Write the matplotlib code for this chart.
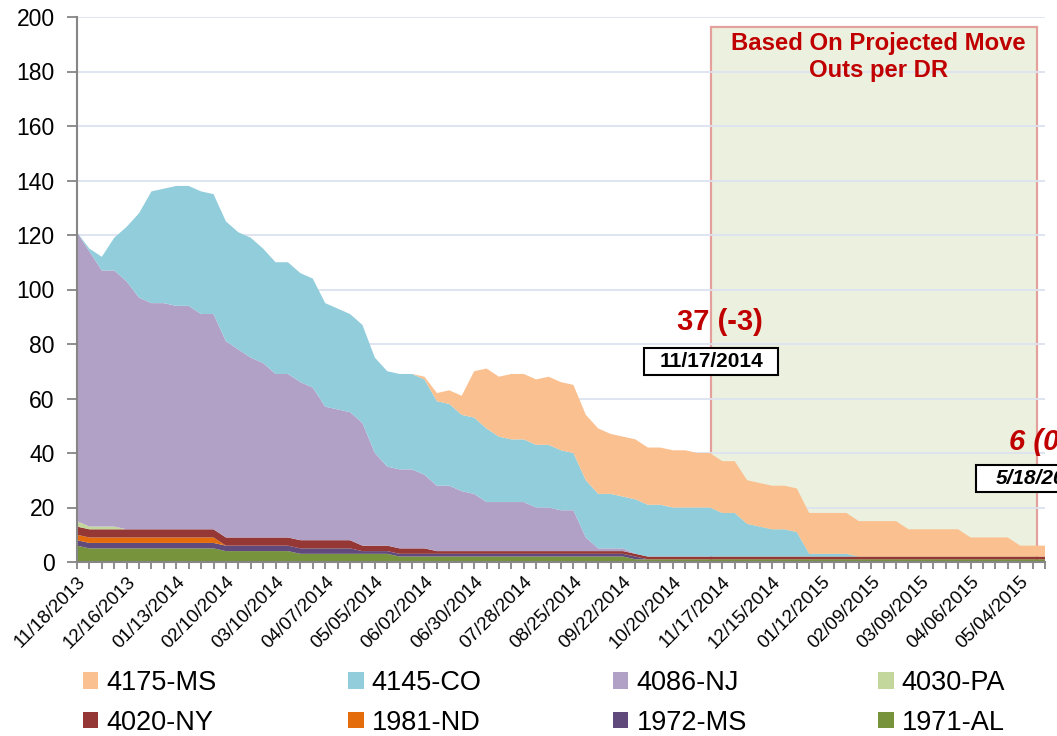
import matplotlib
matplotlib.use("Agg")
import matplotlib.pyplot as plt
from matplotlib.patches import Rectangle, Patch
import numpy as np
import pandas as pd

plt.rcParams["font.family"] = ["Liberation Sans", "DejaVu Sans"]

# weekly snapshots, 11/18/2013 .. 05/18/2015
weeks = pd.date_range("2013-11-18", "2015-05-18", freq="7D")
week_labels = [d.strftime("%m/%d/%Y") for d in weeks]

series_names = ["1971-AL", "1972-MS", "1981-ND", "4020-NY",
                "4030-PA", "4086-NJ", "4145-CO", "4175-MS"]
series_colors = ["#77933C", "#604A7B", "#E46C0A", "#953735",
                 "#C3D69B", "#B2A1C7", "#92CDDC", "#FAC090"]

al_1971 = [6, 5, 5, 5, 5, 5, 5, 5, 5, 5, 5, 5, 4, 4, 4, 4, 4, 4, 3, 3,
           3, 3, 3, 3, 3, 3, 2, 2, 2, 2, 2, 2, 2, 2, 2, 2, 2, 2, 2, 2,
           2, 2, 2, 2, 2, 1, 1, 1, 1, 1, 1, 1, 1, 1, 1, 1, 1, 1, 1, 1,
           1, 1, 1, 1, 1, 1, 1, 1, 1, 1, 1, 1, 1, 1, 1, 1, 1, 1, 1]
ms_1972 = [2, 2, 2, 2, 2, 2, 2, 2, 2, 2, 2, 2, 2, 2, 2, 2, 2, 2, 2, 2,
           2, 2, 2, 1, 1, 1, 1, 1, 1, 1, 1, 1, 1, 1, 1, 1, 1, 1, 1, 1,
           1, 1, 1, 1, 1, 1, 0, 0, 0, 0, 0, 0, 0, 0, 0, 0, 0, 0, 0, 0,
           0, 0, 0, 0, 0, 0, 0, 0, 0, 0, 0, 0, 0, 0, 0, 0, 0, 0, 0]
nd_1981 = [2, 2, 2, 2, 2, 2, 2, 2, 2, 2, 2, 2, 0, 0, 0, 0, 0, 0, 0, 0,
           0, 0, 0, 0, 0, 0, 0, 0, 0, 0, 0, 0, 0, 0, 0, 0, 0, 0, 0, 0,
           0, 0, 0, 0, 0, 0, 0, 0, 0, 0, 0, 0, 0, 0, 0, 0, 0, 0, 0, 0,
           0, 0, 0, 0, 0, 0, 0, 0, 0, 0, 0, 0, 0, 0, 0, 0, 0, 0, 0]
ny_4020 = [3, 3, 3, 3, 3, 3, 3, 3, 3, 3, 3, 3, 3, 3, 3, 3, 3, 3, 3, 3,
           3, 3, 3, 2, 2, 2, 2, 2, 2, 1, 1, 1, 1, 1, 1, 1, 1, 1, 1, 1,
           1, 1, 1, 1, 1, 1, 1, 1, 1, 1, 1, 1, 1, 1, 1, 1, 1, 1, 1, 1,
           1, 1, 1, 1, 1, 1, 1, 1, 1, 1, 1, 1, 1, 1, 1, 1, 1, 1, 1]
pa_4030 = [2, 1, 1, 1, 0, 0, 0, 0, 0, 0, 0, 0, 0, 0, 0, 0, 0, 0, 0, 0,
           0, 0, 0, 0, 0, 0, 0, 0, 0, 0, 0, 0, 0, 0, 0, 0, 0, 0, 0, 0,
           0, 0, 0, 0, 0, 0, 0, 0, 0, 0, 0, 0, 0, 0, 0, 0, 0, 0, 0, 0,
           0, 0, 0, 0, 0, 0, 0, 0, 0, 0, 0, 0, 0, 0, 0, 0, 0, 0, 0]
nj_4086 = [106, 101, 94, 94, 91, 85, 83, 83, 82, 82, 79, 79, 72, 69, 66,
           64, 60, 60, 58, 56, 49, 48, 47, 45, 34, 29, 29, 29, 27, 24,
           24, 22, 21, 18, 18, 18, 18, 16, 16, 15, 15, 5, 1, 1, 1,
           0, 0, 0, 0, 0, 0, 0, 0, 0, 0, 0, 0, 0, 0, 0, 0, 0, 0, 0, 0,
           0, 0, 0, 0, 0, 0, 0, 0, 0, 0, 0, 0, 0, 0]
co_4145 = [0, 1, 5, 12, 20, 31, 41, 42, 44, 44, 45, 44, 44, 43, 44,
           42, 41, 41, 40, 40, 38, 37, 36, 36, 35, 35, 35, 35, 35, 31,
           30, 28, 28, 27, 24, 23, 23, 23, 23, 22, 21, 21, 20, 20, 19,
           20, 19, 19, 18, 18, 18, 18, 16, 16, 12, 11, 10, 10, 9, 1,
           1, 1, 1, 0, 0, 0, 0, 0, 0, 0, 0, 0, 0, 0, 0, 0, 0, 0, 0]
ms_4175 = [0, 0, 0, 0, 0, 0, 0, 0, 0, 0, 0, 0, 0, 0, 0, 0, 0, 0, 0, 0,
           0, 0, 0, 0, 0, 0, 0, 0, 1, 3, 5, 7, 17, 22, 22, 24, 24, 24,
           25, 25, 25, 24, 24, 22, 22, 22, 21, 21, 21, 21, 20, 20, 19,
           19, 16, 16, 16, 16, 16, 15, 15, 15, 15, 13, 13, 13, 13, 10,
           10, 10, 10, 10, 7, 7, 7, 7, 4, 4, 4]

# legend order as laid out in the reference (row by row)
legend_rows = [["4175-MS", "4145-CO", "4086-NJ", "4030-PA"],
               ["4020-NY", "1981-ND", "1972-MS", "1971-AL"]]

RED = "#C00000"
AXIS_GREY = "#868686"

W, H = 1057, 736
fig = plt.figure(figsize=(W / 100, H / 100), dpi=100)
ax = fig.add_axes([77 / W, 1 - 562 / H, (1045 - 77) / W, (562 - 17) / H])

x = np.arange(len(weeks))
ax.stackplot(x, al_1971, ms_1972, nd_1981, ny_4020, pa_4030, nj_4086,
             co_4145, ms_4175, colors=series_colors, labels=series_names,
             linewidth=0, zorder=2)

# projection window
ax.add_patch(Rectangle((51.1, 0), 26.26, 196.3, facecolor="#EBF1DE",
                       edgecolor="#E4A19B", lw=1.6, zorder=0.2))
ax.text(64.6, 194.5, "Based On Projected Move\nOuts per DR", ha="center",
        va="top", color=RED, fontsize=17.2, fontweight="bold",
        linespacing=1.25)

# current / projected totals
ax.text(51.8, 88, "37 (-3)", ha="center", va="center", color=RED,
        fontsize=21, fontweight="bold")
ax.add_patch(Rectangle((51.09 - 5.4, 73.6 - 4.95), 10.8, 9.9,
                       facecolor="white", edgecolor="black", lw=1.5,
                       zorder=5, clip_on=False))
ax.text(51.09, 73.6, "11/17/2014", ha="center", va="center",
        fontsize=15, fontweight="bold", zorder=6)

ax.text(75.1, 44, "6 (0)", ha="left", va="center", color=RED,
        fontsize=21, fontweight="bold", style="italic")
ax.add_patch(Rectangle((77.8 - 5.4, 30.8 - 4.95), 10.8, 9.9,
                       facecolor="white", edgecolor="black", lw=1.5,
                       zorder=5, clip_on=False))
ax.text(77.8, 30.8, "5/18/2015", ha="center", va="center",
        fontsize=15, fontweight="bold", style="italic", zorder=6,
        clip_on=False)

ax.set_xlim(0, len(weeks) - 1)
ax.set_ylim(0, 200)
ax.set_yticks(np.arange(0, 201, 20))
ax.set_xticks(x)
ax.set_xticklabels([lab if i % 4 == 0 else "" for i, lab in
                    enumerate(week_labels)], rotation=45, ha="right",
                   rotation_mode="anchor", fontsize=13.5)
ax.tick_params(axis="y", length=7, width=1.3, color=AXIS_GREY,
               labelsize=16.5, pad=9)
ax.tick_params(axis="x", length=5, width=1.3, color=AXIS_GREY, pad=3)

ax.yaxis.grid(True, color="#DCE3EF", linewidth=1.3)
ax.set_axisbelow(True)
for side in ("top", "right"):
    ax.spines[side].set_visible(False)
for side in ("left", "bottom"):
    ax.spines[side].set_color(AXIS_GREY)
    ax.spines[side].set_linewidth(1.5)

color_of = dict(zip(series_names, series_colors))
order = [name for col in zip(*legend_rows) for name in col]
handles = [Patch(facecolor=color_of[n], edgecolor="none") for n in order]
fig.legend(handles, order, ncol=4, loc="upper left",
           bbox_to_anchor=(83 / W, 1 - 670 / H), frameon=False,
           fontsize=19.5, handlelength=0.57, handleheight=0.57,
           handletextpad=0.3, columnspacing=4.85, labelspacing=0.5,
           borderpad=0, borderaxespad=0)

fig.savefig("out.png", dpi=100)
